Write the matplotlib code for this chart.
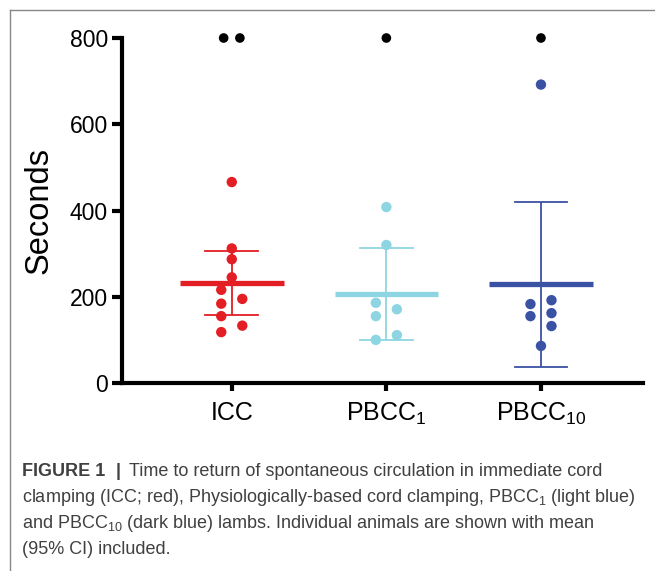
import matplotlib
matplotlib.use("Agg")
import matplotlib.pyplot as plt
from matplotlib.lines import Line2D
import numpy as np

plt.rcParams['font.family'] = ['Liberation Sans', 'DejaVu Sans']
plt.rcParams['mathtext.fontset'] = 'custom'
plt.rcParams['mathtext.rm'] = 'Liberation Sans'
plt.rcParams['mathtext.it'] = 'Liberation Sans:italic'

# ---- data ----
categories = ["ICC", r"PBCC$_{1}$", r"PBCC$_{10}$"]
colors = ["#E31E24", "#8DD5E2", "#3A52A3"]

icc_values = [466, 312, 287, 245, 216, 195, 184, 155, 133, 118]
icc_offsets = [0, 0, 0, 0, -1, 1, -1, -1, 1, -1]
pbcc1_values = [408, 320, 186, 171, 155, 111, 100]
pbcc1_offsets = [0, 0, -1, 1, -1, 1, -1]
pbcc10_values = [692, 183, 192, 155, 162, 132, 86]
pbcc10_offsets = [0, -1, 1, -1, 1, 1, 0]

means = [231, 207, 229]
ci_low = [157, 100, 37]
ci_high = [306, 313, 420]

# animals without return of circulation (plotted at the ceiling, black)
censored_value = 800
censored_counts = [2, 1, 1]
censored_offsets = [[-0.5, 0.5], [0], [0]]

groups_values = [icc_values, pbcc1_values, pbcc10_values]
groups_offsets = [icc_offsets, pbcc1_offsets, pbcc10_offsets]

yticks = [0, 200, 400, 600, 800]

# ---- figure ----
fig = plt.figure(figsize=(6.55, 5.71), dpi=100)
W, H = 655, 571

ax = fig.add_axes([122 / W, (H - 383) / H, (643 - 122) / W, (383 - 38) / H])
ax.set_xlim(-0.71, 2.66)
ax.set_ylim(0, 800)

jit = 0.068
mean_hw = 0.335
cap_hw = 0.17

for i, (vals, offs) in enumerate(zip(groups_values, groups_offsets)):
    c = colors[i]
    xs = [i + o * jit for o in offs]
    # CI bar
    ax.plot([i, i], [ci_low[i], ci_high[i]], color=c, lw=1.3, zorder=2,
            solid_capstyle='butt')
    ax.plot([i - cap_hw, i + cap_hw], [ci_low[i]] * 2, color=c, lw=1.3, zorder=2)
    ax.plot([i - cap_hw, i + cap_hw], [ci_high[i]] * 2, color=c, lw=1.3, zorder=2)
    # mean
    ax.plot([i - mean_hw, i + mean_hw], [means[i]] * 2, color=c, lw=3.8, zorder=2,
            solid_capstyle='butt')
    ax.scatter(xs, vals, s=56, color=c, edgecolors='none', zorder=3, clip_on=False)
    cx = [i + o * 0.105 for o in censored_offsets[i]]
    ax.scatter(cx, [censored_value] * censored_counts[i], s=48, color='black',
               edgecolors='none', zorder=3, clip_on=False)

for side in ['top', 'right']:
    ax.spines[side].set_visible(False)
for side in ['left', 'bottom']:
    ax.spines[side].set_linewidth(3.0)
    ax.spines[side].set_capstyle('projecting')

ax.set_yticks(yticks)
ax.set_yticklabels([str(v) for v in yticks])
ax.set_xticks(range(3))
ax.set_xticklabels(categories)
ax.tick_params(axis='y', length=7, width=3.0, labelsize=16.5, pad=3, colors='black')
ax.tick_params(axis='x', length=6, width=3.0, labelsize=18, pad=7, colors='black')
ax.set_ylabel("Seconds", fontsize=23.5, labelpad=11)

# ---- border ----
fig.add_artist(Line2D([9.5 / W, 9.5 / W], [0, (H - 9.5) / H], color='#888888', lw=1.0,
                      transform=fig.transFigure))
fig.add_artist(Line2D([9.5 / W, 1.0], [(H - 9.5) / H] * 2, color='#888888', lw=1.0,
                      transform=fig.transFigure))

# ---- caption ----
cap_color = '#404040'
cap_fs = 13.0
x0 = 22 / W
y1 = (H - 471) / H
t1 = fig.text(x0, y1, "FIGURE 1", fontsize=cap_fs, fontweight='bold', color=cap_color,
              va='center', ha='left')
fig.canvas.draw()
r = fig.canvas.get_renderer()
bb = t1.get_window_extent(renderer=r)
bar_x = (bb.x1 + 10) / W
fig.text(bar_x, y1, "|", fontsize=cap_fs, fontweight='bold', color=cap_color,
         va='center', ha='left')
fig.text((bb.x1 + 24) / W, y1, "Time to return of spontaneous circulation in immediate cord",
         fontsize=cap_fs, color=cap_color, va='center', ha='left')
lines = [
    r"clamping (ICC; red), Physiologically-based cord clamping, PBCC$_{1}$ (light blue)",
    r"and PBCC$_{10}$ (dark blue) lambs. Individual animals are shown with mean",
    "(95% CI) included.",
]
for k, ln in enumerate(lines):
    fig.text(x0, (H - 471 - 26 * (k + 1)) / H, ln, fontsize=cap_fs, color=cap_color,
             va='center', ha='left')

fig.savefig("out.png", dpi=100)
